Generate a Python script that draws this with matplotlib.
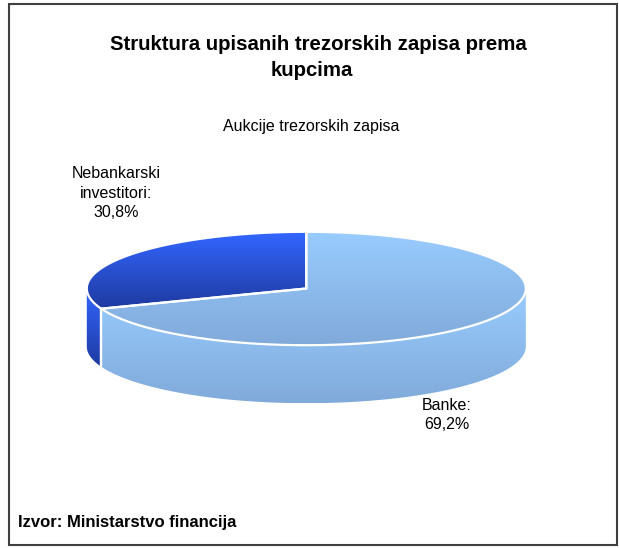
import numpy as np
import matplotlib
matplotlib.use("Agg")
import matplotlib.pyplot as plt
from matplotlib.patches import Polygon, Rectangle

# ---- data ----
categories = ["Banke", "Nebankarski investitori"]
values = [69.2, 30.8]
label_texts = ["Banke:\n69,2%", "Nebankarski\ninvestitori:\n30,8%"]
title_lines = ["Struktura upisanih trezorskih zapisa prema", "kupcima"]
subtitle = "Aukcije trezorskih zapisa"
source = "Izvor: Ministarstvo financija"

# ---- style ----
light_cols = [(153/255, 204/255, 255/255), (51/255, 102/255, 255/255)]
dark_cols = [(128/255, 170/255, 218/255), (30/255, 58/255, 160/255)]
label_pos = [(447, 415), (116, 193)]

plt.rcParams['font.family'] = ['Liberation Sans', 'DejaVu Sans']

W, H = 619, 548
fig = plt.figure(figsize=(W/100, H/100), dpi=100)
ax = fig.add_axes([0, 0, 1, 1])
ax.set_xlim(0, W)
ax.set_ylim(H, 0)
ax.axis('off')

# pie geometry (pixel space)
cx, cy, rx, ry, depth = 306.3, 288.5, 219.5, 56.7, 58.0


def ell(t):
    t = np.radians(t)
    return cx + rx*np.cos(t), cy - ry*np.sin(t)


def grad_fill(verts, c_top, c_bot, z):
    poly = Polygon(verts, closed=True, facecolor='none', edgecolor='none')
    ax.add_patch(poly)
    ys = verts[:, 1]
    xs = verts[:, 0]
    y0, y1 = ys.min(), ys.max()
    n = 256
    f = np.linspace(0, 1, n)[:, None]
    img = np.zeros((n, 2, 3))
    for k in range(3):
        img[:, :, k] = c_top[k] + (c_bot[k] - c_top[k]) * f
    im = ax.imshow(img, extent=(xs.min()-1, xs.max()+1, y1, y0),
                   origin='upper', aspect='auto', zorder=z, interpolation='bilinear')
    im.set_clip_path(poly)


# angles: start at top (90 deg), clockwise
total = sum(values)
starts = []
a = 90.0
spans = []
for v in values:
    span = v / total * 360.0
    starts.append(a)
    spans.append(span)
    a -= span

# side walls (front visible part: t in [180, 360])
for i, (s, sp) in enumerate(zip(starts, spans)):
    lo, hi = s - sp, s
    for off in (0, 360, -360):
        a0 = max(lo + off, 180)
        a1 = min(hi + off, 360)
        if a1 > a0:
            tt = np.linspace(a0, a1, 200)
            x, y = ell(tt)
            top = np.column_stack([x, y])
            bot = np.column_stack([x[::-1], y[::-1] + depth])
            verts = np.vstack([top, bot])
            grad_fill(verts, light_cols[i], dark_cols[i], 1)
            for ang in (a0, a1):
                if 180 < ang < 360:
                    px, py = ell(ang)
                    ax.plot([px, px], [py, py + depth], color='white', lw=1.6, zorder=3)

# top faces
for i, (s, sp) in enumerate(zip(starts, spans)):
    tt = np.linspace(s, s - sp, 300)
    x, y = ell(tt)
    verts = np.vstack([[cx, cy], np.column_stack([x, y])])
    grad_fill(verts, light_cols[i], dark_cols[i], 2)
    ax.add_patch(Polygon(verts, closed=True, facecolor='none', edgecolor='white',
                         lw=1.6, zorder=4, joinstyle='round'))

# labels
for txt, (lx, ly) in zip(label_texts, label_pos):
    ax.text(lx, ly, txt, ha='center', va='center', fontsize=11.5,
            linespacing=1.35, color='black', zorder=5)

# titles
ax.text(318, 45, title_lines[0], ha='center', va='center', fontsize=14.7,
        fontweight='bold')
ax.text(312, 71, title_lines[1], ha='center', va='center', fontsize=14.7,
        fontweight='bold')
ax.text(311, 127, subtitle, ha='center', va='center', fontsize=11.5)
ax.text(18, 522, source, ha='left', va='center', fontsize=12, fontweight='bold')

# frame
ax.add_patch(Rectangle((8.5, 3.5), 608, 541.5, facecolor='none',
                       edgecolor='#404040', lw=1.5, zorder=6))

fig.savefig('out.png', dpi=100)
